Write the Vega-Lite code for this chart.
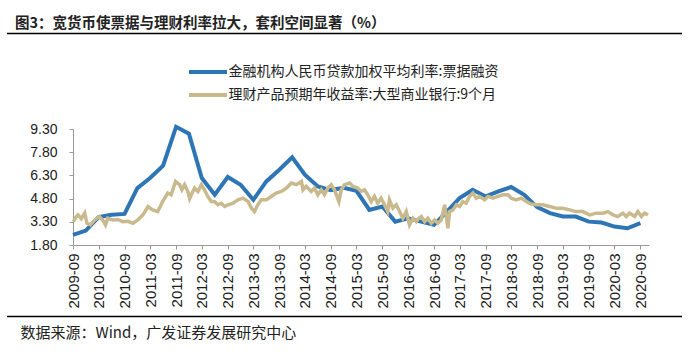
{
  "$schema": "https://vega.github.io/schema/vega-lite/v6.json",
  "width": 576,
  "height": 116,
  "autosize": "none",
  "padding": {"left": 73, "top": 129, "right": 41, "bottom": 111},
  "background": "white",
  "config": {"view": {"stroke": null}, "font": "Liberation Sans"},
  "title": {
    "text": "图3：宽货币使票据与理财利率拉大，套利空间显著（%）",
    "anchor": "start", "frame": "group", "dx": -58, "dy": 3, "offset": 4,
    "font": "Noto Sans CJK SC", "fontSize": 14.5, "fontWeight": "bold", "color": "#222222"
  },
  "datasets": {
    "blue": [
      {"date": "2009-09-01", "rate": 2.45}, {"date": "2009-12-01", "rate": 2.73},
      {"date": "2010-03-01", "rate": 3.6}, {"date": "2010-06-01", "rate": 3.75},
      {"date": "2010-09-01", "rate": 3.81}, {"date": "2010-12-01", "rate": 5.48},
      {"date": "2011-03-01", "rate": 6.13}, {"date": "2011-06-01", "rate": 6.93},
      {"date": "2011-09-01", "rate": 9.44}, {"date": "2011-12-01", "rate": 9.0},
      {"date": "2012-03-01", "rate": 6.13}, {"date": "2012-06-01", "rate": 5.05},
      {"date": "2012-09-01", "rate": 6.2}, {"date": "2012-12-01", "rate": 5.7},
      {"date": "2013-03-01", "rate": 4.72}, {"date": "2013-06-01", "rate": 5.91},
      {"date": "2013-09-01", "rate": 6.67}, {"date": "2013-12-01", "rate": 7.47},
      {"date": "2014-03-01", "rate": 6.35}, {"date": "2014-06-01", "rate": 5.59},
      {"date": "2014-09-01", "rate": 5.35}, {"date": "2014-12-01", "rate": 5.5},
      {"date": "2015-03-01", "rate": 5.3}, {"date": "2015-06-01", "rate": 4.07},
      {"date": "2015-09-01", "rate": 4.29}, {"date": "2015-12-01", "rate": 3.31},
      {"date": "2016-03-01", "rate": 3.53}, {"date": "2016-06-01", "rate": 3.31},
      {"date": "2016-09-01", "rate": 3.1}, {"date": "2016-12-01", "rate": 3.96},
      {"date": "2017-03-01", "rate": 4.83}, {"date": "2017-06-01", "rate": 5.37},
      {"date": "2017-09-01", "rate": 4.94}, {"date": "2017-12-01", "rate": 5.26},
      {"date": "2018-03-01", "rate": 5.55}, {"date": "2018-06-01", "rate": 5.05},
      {"date": "2018-09-01", "rate": 4.25}, {"date": "2018-12-01", "rate": 3.86},
      {"date": "2019-03-01", "rate": 3.64}, {"date": "2019-06-01", "rate": 3.64},
      {"date": "2019-09-01", "rate": 3.31}, {"date": "2019-12-01", "rate": 3.25},
      {"date": "2020-03-01", "rate": 2.99}, {"date": "2020-06-01", "rate": 2.88},
      {"date": "2020-09-01", "rate": 3.21}
    ],
    "beige": [
      {"date": "2009-09-04", "rate": 3.3}, {"date": "2009-09-20", "rate": 3.6},
      {"date": "2009-10-06", "rate": 3.75}, {"date": "2009-10-30", "rate": 3.5},
      {"date": "2009-11-23", "rate": 3.86}, {"date": "2009-12-09", "rate": 3.2},
      {"date": "2010-01-02", "rate": 3.1}, {"date": "2010-02-02", "rate": 3.42},
      {"date": "2010-03-07", "rate": 3.64}, {"date": "2010-03-30", "rate": 3.42},
      {"date": "2010-04-19", "rate": 3.1}, {"date": "2010-05-05", "rate": 3.53},
      {"date": "2010-06-10", "rate": 3.42}, {"date": "2010-07-15", "rate": 3.45},
      {"date": "2010-08-20", "rate": 3.31}, {"date": "2010-09-25", "rate": 3.33},
      {"date": "2010-10-30", "rate": 3.21}, {"date": "2010-12-04", "rate": 3.42},
      {"date": "2011-01-09", "rate": 3.75}, {"date": "2011-02-14", "rate": 4.29},
      {"date": "2011-03-19", "rate": 4.07}, {"date": "2011-04-24", "rate": 3.96},
      {"date": "2011-05-29", "rate": 4.61}, {"date": "2011-07-04", "rate": 5.16},
      {"date": "2011-07-28", "rate": 5.05}, {"date": "2011-08-28", "rate": 5.91},
      {"date": "2011-09-26", "rate": 5.7}, {"date": "2011-10-12", "rate": 5.37},
      {"date": "2011-10-31", "rate": 5.7}, {"date": "2011-11-24", "rate": 5.26},
      {"date": "2011-12-06", "rate": 4.8}, {"date": "2011-12-18", "rate": 5.05},
      {"date": "2012-01-10", "rate": 5.48}, {"date": "2012-02-03", "rate": 5.26},
      {"date": "2012-02-27", "rate": 5.7}, {"date": "2012-03-20", "rate": 5.37},
      {"date": "2012-04-13", "rate": 4.94}, {"date": "2012-05-07", "rate": 4.61},
      {"date": "2012-05-30", "rate": 4.61}, {"date": "2012-06-23", "rate": 4.4},
      {"date": "2012-07-17", "rate": 4.5}, {"date": "2012-08-10", "rate": 4.29},
      {"date": "2012-09-03", "rate": 4.4}, {"date": "2012-10-08", "rate": 4.5},
      {"date": "2012-11-13", "rate": 4.72}, {"date": "2012-12-17", "rate": 4.83},
      {"date": "2013-01-23", "rate": 4.61}, {"date": "2013-02-16", "rate": 4.18},
      {"date": "2013-03-09", "rate": 3.96}, {"date": "2013-04-02", "rate": 4.4},
      {"date": "2013-04-26", "rate": 4.72}, {"date": "2013-06-01", "rate": 4.72},
      {"date": "2013-07-06", "rate": 4.94}, {"date": "2013-08-10", "rate": 5.16},
      {"date": "2013-09-16", "rate": 5.26}, {"date": "2013-10-21", "rate": 5.48},
      {"date": "2013-11-25", "rate": 5.81}, {"date": "2013-12-31", "rate": 5.7},
      {"date": "2014-02-05", "rate": 5.91}, {"date": "2014-02-16", "rate": 5.37},
      {"date": "2014-03-10", "rate": 5.59}, {"date": "2014-04-15", "rate": 5.26},
      {"date": "2014-05-08", "rate": 5.48}, {"date": "2014-06-01", "rate": 5.05},
      {"date": "2014-06-25", "rate": 5.37}, {"date": "2014-07-18", "rate": 5.05},
      {"date": "2014-08-10", "rate": 5.48}, {"date": "2014-09-04", "rate": 5.7},
      {"date": "2014-09-27", "rate": 5.37}, {"date": "2014-10-28", "rate": 4.61},
      {"date": "2014-11-14", "rate": 5.37}, {"date": "2014-12-07", "rate": 5.7},
      {"date": "2015-01-12", "rate": 5.81}, {"date": "2015-02-05", "rate": 5.59},
      {"date": "2015-03-10", "rate": 5.48}, {"date": "2015-04-04", "rate": 5.26},
      {"date": "2015-04-27", "rate": 5.37}, {"date": "2015-05-20", "rate": 5.05},
      {"date": "2015-06-14", "rate": 4.61}, {"date": "2015-07-07", "rate": 4.94},
      {"date": "2015-07-30", "rate": 4.5}, {"date": "2015-08-23", "rate": 4.83},
      {"date": "2015-09-16", "rate": 4.4}, {"date": "2015-10-09", "rate": 3.96},
      {"date": "2015-10-21", "rate": 4.72}, {"date": "2015-11-14", "rate": 4.18},
      {"date": "2015-12-08", "rate": 4.4}, {"date": "2016-01-01", "rate": 3.96},
      {"date": "2016-01-24", "rate": 3.53}, {"date": "2016-02-17", "rate": 3.96},
      {"date": "2016-03-11", "rate": 3.1}, {"date": "2016-04-04", "rate": 3.53},
      {"date": "2016-04-28", "rate": 3.31}, {"date": "2016-05-16", "rate": 3.53},
      {"date": "2016-06-03", "rate": 3.64}, {"date": "2016-06-26", "rate": 3.31},
      {"date": "2016-07-19", "rate": 3.53}, {"date": "2016-08-12", "rate": 3.21},
      {"date": "2016-09-05", "rate": 3.42}, {"date": "2016-09-28", "rate": 3.21},
      {"date": "2016-10-22", "rate": 3.42}, {"date": "2016-11-15", "rate": 4.4},
      {"date": "2016-12-08", "rate": 2.88}, {"date": "2016-12-20", "rate": 3.96},
      {"date": "2017-01-13", "rate": 4.07}, {"date": "2017-02-06", "rate": 4.4},
      {"date": "2017-03-01", "rate": 4.29}, {"date": "2017-03-23", "rate": 4.61},
      {"date": "2017-04-16", "rate": 4.5}, {"date": "2017-05-10", "rate": 4.94},
      {"date": "2017-06-03", "rate": 5.16}, {"date": "2017-06-27", "rate": 4.83},
      {"date": "2017-07-20", "rate": 4.94}, {"date": "2017-08-25", "rate": 4.72},
      {"date": "2017-09-18", "rate": 4.94}, {"date": "2017-10-23", "rate": 4.83},
      {"date": "2017-11-27", "rate": 4.94}, {"date": "2018-01-02", "rate": 5.05},
      {"date": "2018-02-07", "rate": 5.05}, {"date": "2018-03-01", "rate": 4.83},
      {"date": "2018-04-06", "rate": 4.72}, {"date": "2018-05-11", "rate": 4.83},
      {"date": "2018-06-16", "rate": 4.61}, {"date": "2018-07-21", "rate": 4.45},
      {"date": "2018-08-26", "rate": 4.4}, {"date": "2018-10-11", "rate": 4.4},
      {"date": "2018-11-28", "rate": 4.29}, {"date": "2019-01-15", "rate": 4.18},
      {"date": "2019-03-01", "rate": 4.18}, {"date": "2019-04-18", "rate": 4.07},
      {"date": "2019-06-04", "rate": 3.96}, {"date": "2019-07-21", "rate": 3.96},
      {"date": "2019-09-08", "rate": 3.75}, {"date": "2019-10-24", "rate": 3.86},
      {"date": "2019-12-10", "rate": 3.86}, {"date": "2020-01-15", "rate": 3.96},
      {"date": "2020-02-20", "rate": 3.75}, {"date": "2020-03-25", "rate": 3.64},
      {"date": "2020-04-30", "rate": 3.86}, {"date": "2020-05-24", "rate": 3.64},
      {"date": "2020-06-16", "rate": 3.86}, {"date": "2020-07-22", "rate": 3.64},
      {"date": "2020-08-14", "rate": 3.96}, {"date": "2020-09-08", "rate": 3.64},
      {"date": "2020-10-01", "rate": 3.86}, {"date": "2020-10-25", "rate": 3.75}
    ]
  },
  "encoding": {
    "x": {
      "field": "date", "type": "temporal",
      "scale": {"type": "utc", "domain": [{"year": 2009, "month": 9, "date": 1, "utc": true}, {"year": 2020, "month": 11, "date": 1, "utc": true}]},
      "axis": {
        "values": [
          {"year": 2009, "month": 9, "date": 1, "utc": true}, {"year": 2010, "month": 3, "date": 1, "utc": true},
          {"year": 2010, "month": 9, "date": 1, "utc": true}, {"year": 2011, "month": 3, "date": 1, "utc": true},
          {"year": 2011, "month": 9, "date": 1, "utc": true}, {"year": 2012, "month": 3, "date": 1, "utc": true},
          {"year": 2012, "month": 9, "date": 1, "utc": true}, {"year": 2013, "month": 3, "date": 1, "utc": true},
          {"year": 2013, "month": 9, "date": 1, "utc": true}, {"year": 2014, "month": 3, "date": 1, "utc": true},
          {"year": 2014, "month": 9, "date": 1, "utc": true}, {"year": 2015, "month": 3, "date": 1, "utc": true},
          {"year": 2015, "month": 9, "date": 1, "utc": true}, {"year": 2016, "month": 3, "date": 1, "utc": true},
          {"year": 2016, "month": 9, "date": 1, "utc": true}, {"year": 2017, "month": 3, "date": 1, "utc": true},
          {"year": 2017, "month": 9, "date": 1, "utc": true}, {"year": 2018, "month": 3, "date": 1, "utc": true},
          {"year": 2018, "month": 9, "date": 1, "utc": true}, {"year": 2019, "month": 3, "date": 1, "utc": true},
          {"year": 2019, "month": 9, "date": 1, "utc": true}, {"year": 2020, "month": 3, "date": 1, "utc": true},
          {"year": 2020, "month": 9, "date": 1, "utc": true}
        ],
        "labelExpr": "utcFormat(datum.value, '%Y-%m')",
        "labelAngle": -90, "labelFontSize": 15, "labelFont": "Liberation Sans", "labelColor": "#1a1a1a",
        "labelPadding": 4, "labelOverlap": false, "labelFlush": false,
        "tickSize": 4, "tickColor": "#999999", "domainColor": "#999999", "grid": false,
        "title": "数据来源：Wind，广发证券发展研究中心",
        "titleFont": "Noto Sans CJK SC", "titleFontSize": 15, "titleFontWeight": "normal", "titleColor": "#222222",
        "titleAnchor": "start", "titleAlign": "left", "titleBaseline": "middle", "titleX": -53, "titleY": 87
      }
    },
    "y": {
      "field": "rate", "type": "quantitative",
      "scale": {"domain": [1.8, 9.3], "nice": false, "zero": false},
      "axis": {
        "values": [1.8, 3.3, 4.8, 6.3, 7.8, 9.3], "format": ".2f",
        "labelFontSize": 14, "labelFont": "Liberation Sans", "labelColor": "#1a1a1a", "labelPadding": 12,
        "tickSize": 4, "tickColor": "#999999", "domainColor": "#999999", "grid": false, "title": null
      }
    }
  },
  "layer": [
    {
      "data": {"values": [{}]},
      "mark": {"type": "rule", "color": "#000000", "strokeWidth": 1.5},
      "encoding": {"x": {"value": -66}, "x2": {"value": 609}, "y": {"value": -95.5}}
    },
    {
      "data": {"values": [{}]},
      "mark": {"type": "rule", "color": "#000000", "strokeWidth": 1.5},
      "encoding": {"x": {"value": -66}, "x2": {"value": 609}, "y": {"value": 187.5}}
    },
    {
      "data": {"name": "blue"},
      "mark": {"type": "line", "strokeWidth": 4, "clip": false},
      "encoding": {
        "color": {
          "datum": "金融机构人民币贷款加权平均利率:票据融资",
          "scale": {"domain": ["金融机构人民币贷款加权平均利率:票据融资", "理财产品预期年收益率:大型商业银行:9个月"], "range": ["#2E75B6", "#C9BA8E"]},
          "legend": {
            "orient": "none", "legendX": 123.5, "legendY": -68.5, "direction": "vertical", "title": null,
            "symbolType": "M-2,0H2", "symbolSize": 361, "symbolStrokeWidth": 4,
            "labelFont": "Noto Sans CJK SC", "labelFontSize": 14, "labelColor": "#222222", "labelOffset": 9,
            "labelLimit": 500, "rowPadding": 3, "padding": 0
          }
        }
      }
    },
    {
      "data": {"name": "beige"},
      "mark": {"type": "line", "strokeWidth": 3.5, "clip": false},
      "encoding": {
        "color": {"datum": "理财产品预期年收益率:大型商业银行:9个月"}
      }
    }
  ]
}
